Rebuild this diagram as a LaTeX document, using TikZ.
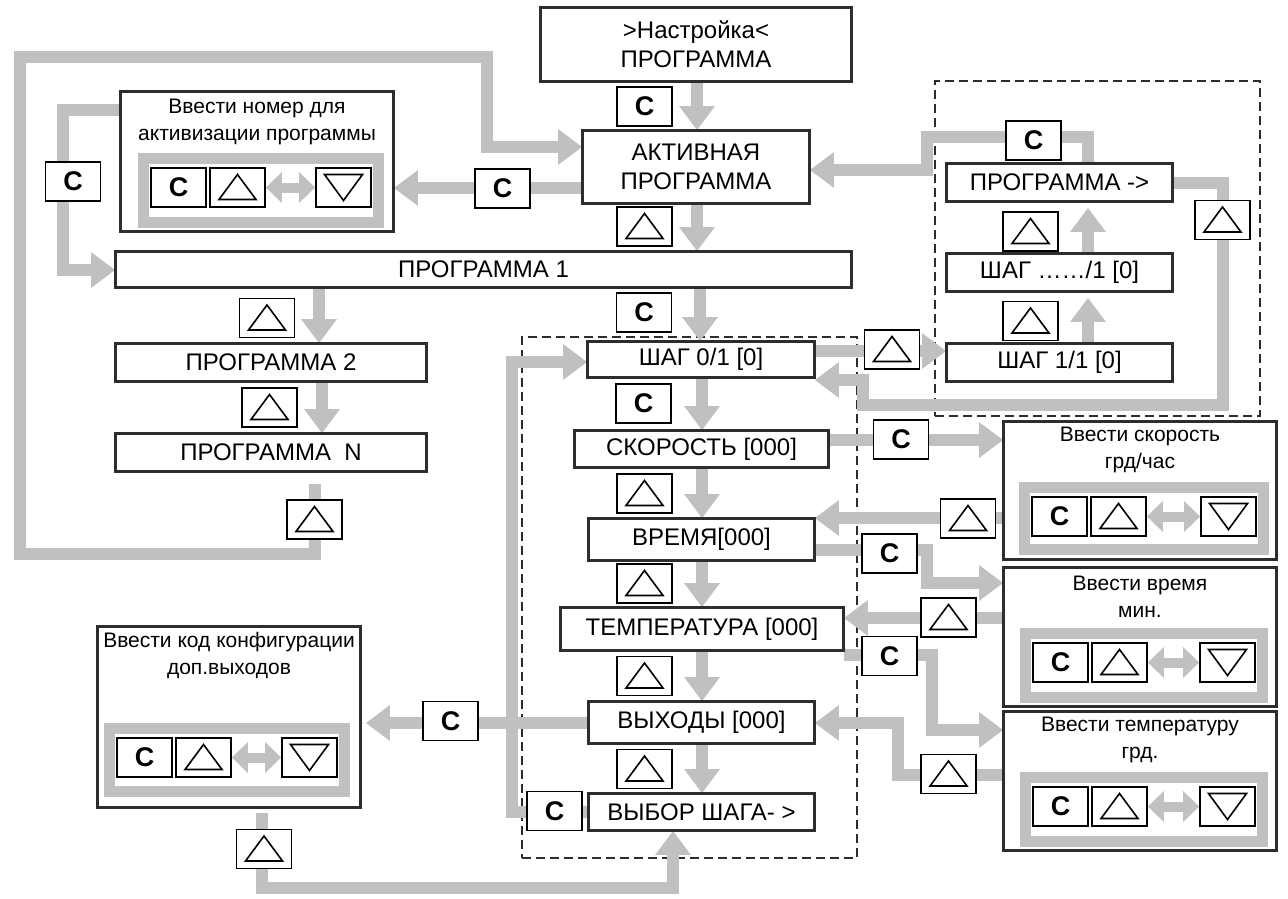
\documentclass[tikz,border=0pt]{standalone}
\usepackage{fontspec}
\setmainfont{Liberation Sans}
\usetikzlibrary{arrows.meta}
\definecolor{cgray}{RGB}{192,192,192}
\definecolor{bline}{RGB}{45,45,45}
\tikzset{
  box/.style={draw=bline, line width=1.6pt, fill=white, inner sep=0pt, align=center, font=\fontsize{24}{29}\selectfont},
  ebox/.style={draw=bline, line width=1.6pt, fill=white, inner sep=0pt},
  etitle/.style={align=center, inner sep=0pt, font=\fontsize{21}{27}\selectfont},
  key/.style={draw=black, line width=1.8pt, fill=white, minimum width=55pt, minimum height=39pt, inner sep=0pt, font=\bfseries\fontsize{27}{27}\selectfont},
  tri/.style={draw=black, line width=1.6pt, line join=miter},
  conn/.style={draw=cgray, line width=12pt, line join=miter},
  arr/.style={conn, -{Triangle[width=34pt,length=24pt]}},
  dbl/.style={draw=cgray, line width=10pt, {Triangle[width=30pt,length=16pt]}-{Triangle[width=30pt,length=16pt]}},
  grp/.style={draw=bline, line width=1.3pt, dash pattern=on 9pt off 5pt, inner sep=0pt},
  frame/.style={draw=cgray, line width=11pt, inner sep=0pt},
}
\newcommand\bx[6]{\node[box,minimum width={#4-#2},minimum height={#5-#3}] (#1) at ({(#2+#4)/2},{(#3+#5)/2}) {#6};}
\newcommand\kC[3]{\node[key] (#1) at ({#2},{#3}) {C};}
\newcommand\kU[3]{\node[key] (#1) at ({#2},{#3}) {};\draw[tri] (#1.center) ++(-18.5,12) -- ++(37,0) -- ++(-18.5,-25) -- cycle;}
\newcommand\kD[3]{\node[key] (#1) at ({#2},{#3}) {};\draw[tri] (#1.center) ++(-19,-13) -- ++(38,0) -- ++(-19,26) -- cycle;}
\newcommand\ebx[7]{\node[ebox,minimum width={#4-#2},minimum height={#5-#3}] (#1) at ({(#2+#4)/2},{(#3+#5)/2}) {};
  \node[etitle] (#1t) at ({(#2+#4)/2},{#6}) {#7};}
\newcommand\epad[5]{\node[frame,minimum width={#4-#2-11},minimum height={#5-#3-11}] (#1f) at ({(#2+#4)/2},{(#3+#5)/2}) {};
  \kC{#1c}{#2+40.5}{#3+34.5}
  \kU{#1u}{#2+99.5}{#3+34.5}
  \kD{#1d}{#4-40.5}{#3+34.5}
  \draw[dbl] (#1u.east) -- (#1d.west);}
\begin{document}
\begin{tikzpicture}[x=1pt,y=-1pt]
\fill[white] (0,0) rectangle (1288,899);
\useasboundingbox (0,0) rectangle (1288,899);
% dashed groups
\node[grp,minimum width=335,minimum height=521] (grpL) at (689.5,597.5) {};
\node[grp,minimum width=325,minimum height=335] (grpR) at (1097.5,248.5) {};
% boxes
\bx{top}{541}{8}{851}{81}{>Настройка<\\ПРОГРАММА}
\bx{act}{583}{131}{809}{203}{АКТИВНАЯ\\ПРОГРАММА}
\bx{p1}{116}{252}{851}{287}{ПРОГРАММА 1}
\bx{p2}{116}{344}{426}{381}{ПРОГРАММА 2}
\bx{pN}{116}{434}{426}{471}{ПРОГРАММА~~N}
\bx{s0}{588}{342}{814}{377}{ШАГ 0/1 [0]}
\bx{speed}{575}{431}{828}{467}{СКОРОСТЬ [000]}
\bx{time}{589}{519}{814}{560}{ВРЕМЯ[000]}
\bx{temp}{561}{608}{843}{650}{ТЕМПЕРАТУРА [000]}
\bx{out}{589}{702}{814}{743}{ВЫХОДЫ [000]}
\bx{sel}{589}{794}{814}{830}{ВЫБОР ШАГА- >}
\bx{prg}{947}{164}{1172}{201}{ПРОГРАММА ->}
\bx{sdots}{947}{254}{1172}{291}{ШАГ ……/1 [0]}
\bx{s1}{947}{344}{1172}{381}{ШАГ 1/1 [0]}
\ebx{eA}{121}{92}{393}{231}{121.5}{Ввести номер для\\активизации программы}
\ebx{eB}{1004}{422}{1276}{559}{450}{Ввести скорость\\грд/час}
\ebx{eC}{1004}{568}{1276}{706}{596.5}{Ввести время\\мин.}
\ebx{eD}{1004}{712}{1276}{850}{740}{Ввести температуру\\грд.}
\ebx{eE}{98}{627}{360}{807}{655.5}{Ввести код конфигурации\\доп.выходов}
% free-end coordinates
\coordinate (pNo) at (315,484);
\coordinate (eEo) at (262,813);
% connectors
\draw[arr] (697,0 |- top.south) -- (697,0 |- act.north);
\draw[arr] (697,0 |- act.south) -- (697,0 |- p1.north);
\draw[arr] (700,0 |- p1.south) -- (700,0 |- s0.north);
\draw[arr] (702,0 |- s0.south) -- (702,0 |- speed.north);
\draw[arr] (702,0 |- speed.south) -- (702,0 |- time.north);
\draw[arr] (702,0 |- time.south) -- (702,0 |- temp.north);
\draw[arr] (702,0 |- temp.south) -- (702,0 |- out.north);
\draw[arr] (702,0 |- out.south) -- (702,0 |- sel.north);
\draw[arr] (319,0 |- p1.south) -- (319,0 |- p2.north);
\draw[arr] (322,0 |- p2.south) -- (322,0 |- pN.north);
\draw[arr] (pNo) -- (315,554) -- (20,554) -- (20,57) -- (487,57) -- (487,147) -- (0,147 -| act.west);
\draw[arr] (act.west |- 0,188) -- (eA.east |- 0,188);
\draw[arr] (eA.west |- 0,110) -- (63,110) -- (63,270) -- (p1.west |- 0,270);
\draw[arr] (s0.east |- 0,351) -- (s1.west |- 0,351);
\draw[arr] (prg.east |- 0,183) -- (1223,183) -- (1223,405) -- (863,405) -- (863,380) -- (s0.east |- 0,380);
\draw[arr,shorten >=6pt] (1088,0 |- s1.north) -- (1088,0 |- sdots.south);
\draw[arr,shorten >=6pt] (1088,0 |- sdots.north) -- (1088,0 |- prg.south);
\draw[arr] (1088,0 |- prg.north) -- (1088,137) -- (927,137) -- (927,170) -- (act.east |- 0,170);
\draw[arr] (sel.west |- 0,812) -- (512,812) -- (512,362) -- (s0.west |- 0,362);
\draw[arr,shorten >=5pt] (out.west |- 0,723) -- (eE.east |- 0,723);
\draw[arr] (eEo) -- (262,888) -- (673,888) -- (673,0 |- sel.south);
\draw[arr] (speed.east |- 0,440) -- (eB.west |- 0,440);
\draw[arr] (eB.west |- 0,518) -- (time.east |- 0,518);
\draw[arr] (time.east |- 0,550) -- (927,550) -- (927,583) -- (eC.west |- 0,583);
\draw[arr] (eC.west |- 0,618) -- (temp.east |- 0,618);
\draw[arr] (temp.east |- 0,655) -- (932,655) -- (932,730) -- (eD.west |- 0,730);
\draw[arr] (eD.west |- 0,775) -- (898,775) -- (898,723) -- (out.east |- 0,723);
% box outlines on top of connectors
\foreach \n in {top,act,p1,p2,pN,s0,speed,time,temp,out,sel,prg,sdots,s1,eA,eB,eC,eD,eE}
  \draw[bline,line width=1.6pt] (\n.north west) rectangle (\n.south east);
% entry pads
\epad{eA}{138}{153}{384}{228}
\epad{eB}{1019}{482}{1269}{555}
\epad{eC}{1020}{628}{1268}{703}
\epad{eD}{1020}{772}{1268}{847}
\epad{eE}{104}{723}{350}{797}
% keys on connectors
\kC{kC1}{644.5}{106.5}
\kU{kT1}{644.5}{226.5}
\kC{kC2}{644}{312.5}
\kC{kC3}{643.5}{403.5}
\kU{kT2}{644.5}{493.5}
\kU{kT3}{644.5}{583.5}
\kU{kT4}{644.5}{676}
\kU{kT5}{644.5}{769}
\kC{kC4}{554.5}{811}
\kC{kC5}{502.5}{188.5}
\kC{kC6}{73}{181.5}
\kU{kT6}{267}{318}
\kU{kT7}{269.5}{407.5}
\kU{kT8}{314.5}{519.5}
\kC{kC7}{1033.5}{140.5}
\kU{kT9}{1030.5}{231.5}
\kU{kT10}{1030.5}{321}
\kU{kT11}{1222.5}{220}
\kU{kT12}{892}{349.5}
\kC{kC8}{901}{439.5}
\kU{kT13}{968}{518.5}
\kC{kC9}{889.5}{553.5}
\kU{kT14}{948.5}{617.5}
\kC{kC10}{889.5}{656}
\kU{kT15}{948.5}{774}
\kC{kC11}{450.5}{721}
\kU{kT16}{264}{849}
\end{tikzpicture}
\end{document}
